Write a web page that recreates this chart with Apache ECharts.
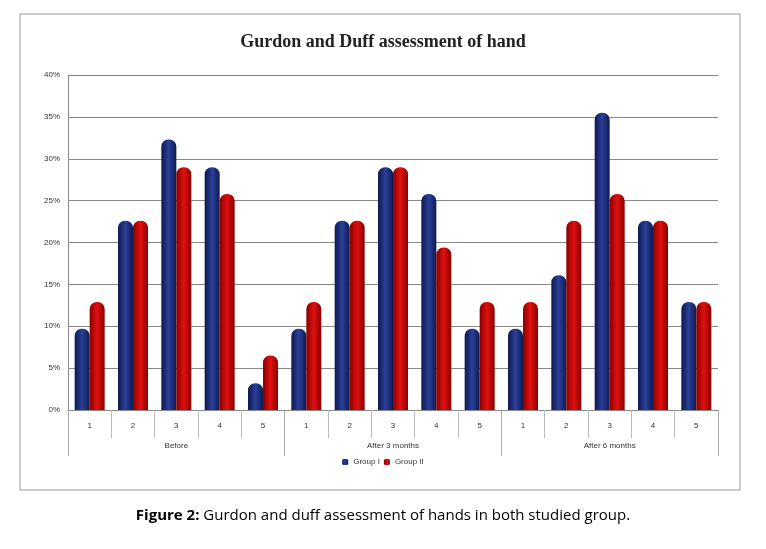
<!DOCTYPE html><html><head><meta charset="utf-8">
<script src="https://cdn.jsdelivr.net/npm/echarts@6/dist/echarts.min.js"></script>
<style>body{margin:0;background:#fff}#c{width:766px;height:549px}</style></head><body><div id="c"></div>
<script>
const categories=['1','2','3','4','5','1','2','3','4','5','1','2','3','4','5'];
const groups=['Before','After 3 months','After 6 months'];
const group1=[9.7,22.6,32.3,29.0,3.2, 9.7,22.6,29.0,25.8,9.7, 9.7,16.1,35.5,22.6,12.9];
const group2=[12.9,22.6,29.0,25.8,6.5, 12.9,22.6,29.0,19.4,12.9, 12.9,22.6,25.8,22.6,12.9];
const yTicks=[0,5,10,15,20,25,30,35,40];
const grad=(a,b)=>new echarts.graphic.LinearGradient(0,0,1,0,[{offset:0,color:a},{offset:0.5,color:b},{offset:1,color:a}]);
const ch=echarts.init(document.getElementById('c'));
ch.setOption({
 graphic:[
  {type:'rect',shape:{x:20,y:14,width:720,height:476},style:{fill:'none',stroke:'#999',lineWidth:1}},
  {type:'text',left:'center',top:508,style:{rich:{b:{fontWeight:'bold',fontSize:15,fontFamily:'Open Sans'},n:{fontSize:15,fontFamily:'Open Sans'}},text:'{b|Figure 2:}{n| Gurdon and duff assessment of hands in both studied group.}'}}
 ],
 title:{text:'Gurdon and Duff assessment of hand',left:'center',top:28,textStyle:{fontFamily:'Liberation Serif',fontSize:18,fontWeight:'bold',color:'#222'}},
 legend:{bottom:78,left:'center',itemWidth:6,itemHeight:6,itemGap:4,textStyle:{fontSize:8,color:'#333'},data:['Group I','Group II']},
 grid:{left:68,right:48,top:75,bottom:139},
 xAxis:[
  {type:'category',data:categories,axisLine:{lineStyle:{color:'#888'}},axisTick:{show:true,interval:0,length:28,lineStyle:{color:'#bbb'}},axisLabel:{fontSize:8,color:'#333',margin:12}},
  {type:'category',data:groups,position:'bottom',offset:0,axisLine:{show:false},axisTick:{show:true,length:46,lineStyle:{color:'#aaa'}},axisLabel:{fontSize:8,color:'#333',margin:32}}
 ],
 yAxis:{type:'value',min:0,max:40,interval:5,axisLabel:{formatter:v=>v+'%',fontSize:8,color:'#333'},splitLine:{lineStyle:{color:'#888'}},axisLine:{show:true,lineStyle:{color:'#888'}}},
 series:[
  {name:'Group I',type:'bar',data:group1,barWidth:15,barGap:'0%',itemStyle:{color:grad('#0d1a4f','#2a3f9a'),borderRadius:[7,7,0,0]}},
  {name:'Group II',type:'bar',data:group2,barWidth:15,itemStyle:{color:grad('#8a0000','#e01010'),borderRadius:[7,7,0,0]}}
 ]
});
</script></body></html>
